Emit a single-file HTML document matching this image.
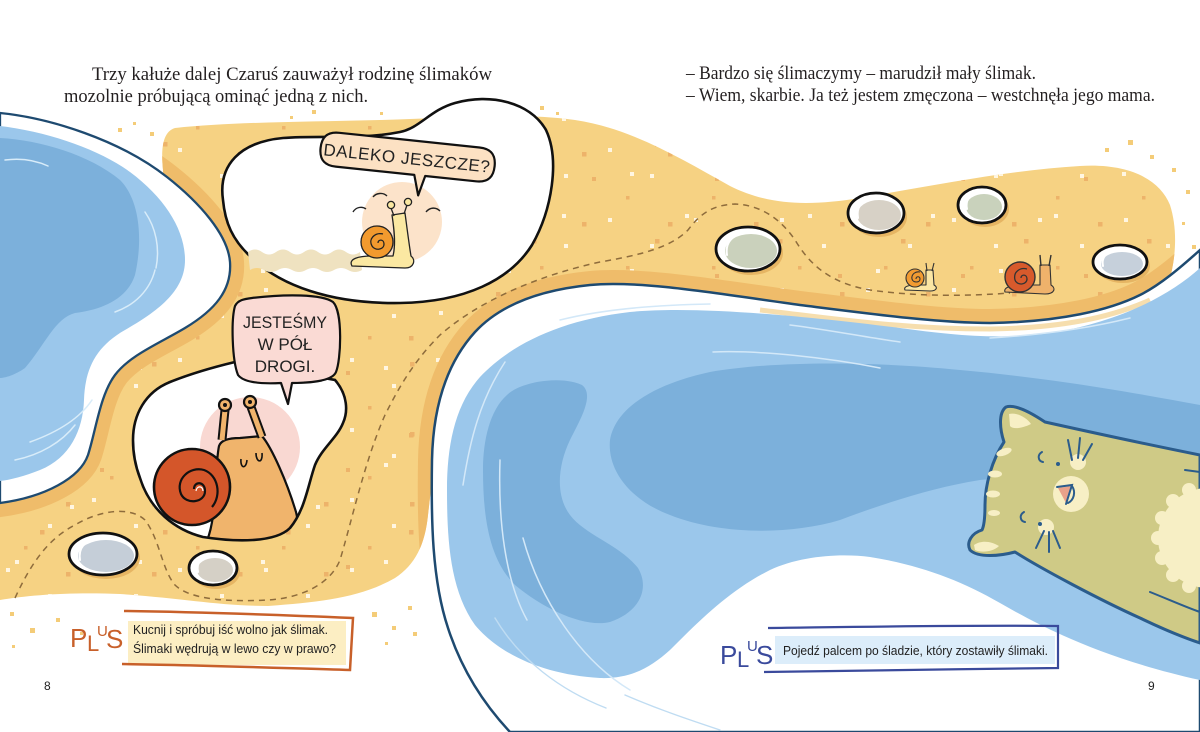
<!DOCTYPE html>
<html><head><meta charset="utf-8"><style>
html,body{margin:0;padding:0;background:#fff;}
svg{display:block;}
.serif{font-family:"Liberation Serif",serif;fill:#231f20;}
.sans{font-family:"Liberation Sans",sans-serif;}
</style></head><body>
<svg width="1200" height="732" viewBox="0 0 1200 732" xmlns="http://www.w3.org/2000/svg">
<defs>
<clipPath id="sandClip"><path d="M175,128 C230,122 300,122 380,120 C450,118 520,112 575,120 C630,128 680,158 730,186 C770,206 810,206 860,198 C930,186 1010,170 1080,166 C1130,163 1160,180 1170,205 C1178,230 1176,260 1168,285 L1100,345 L800,345 L600,330 L480,360 L445,420 L432,480 L428,515 C425,545 415,565 395,578 C360,598 320,602 268,606 C220,606 180,598 120,594 C70,592 30,595 0,600 L0,420 L150,250 C165,220 165,200 163,170 C161,150 162,132 175,128 Z"/></clipPath>
<clipPath id="botBub"><path d="M133,440 C133,415 145,392 170,382 C190,374 210,368 235,362 L335,380 C348,395 348,412 343,423 C337,438 322,448 315,465 C308,485 305,510 290,528 C275,543 235,542 203,537 C175,530 150,510 140,478 C135,465 133,452 133,440 Z"/></clipPath>
<pattern id="dA" width="86" height="70" patternUnits="userSpaceOnUse">
<rect x="6" y="8" width="4" height="4" fill="#FFF6E2"/>
<rect x="48" y="34" width="4" height="4" fill="#FFF6E2"/>
<rect x="66" y="12" width="4.5" height="4.5" fill="#EDB36A"/>
<rect x="24" y="56" width="3.5" height="3.5" fill="#EDB36A"/>
</pattern>
<pattern id="dB" width="123" height="97" patternUnits="userSpaceOnUse">
<rect x="70" y="20" width="4" height="4" fill="#FFF6E2"/>
<rect x="15" y="75" width="4" height="4" fill="#FFF6E2"/>
<rect x="40" y="45" width="4.5" height="4.5" fill="#EDB36A"/>
<rect x="100" y="80" width="4" height="4" fill="#EDB36A"/>
</pattern>
</defs>

<!-- SAND -->
<path d="M175,128 C230,122 300,122 380,120 C450,118 520,112 575,120 C630,128 680,158 730,186 C770,206 810,206 860,198 C930,186 1010,170 1080,166 C1130,163 1160,180 1170,205 C1178,230 1176,260 1168,285 L1100,345 L800,345 L600,330 L480,360 L445,420 L432,480 L428,515 C425,545 415,565 395,578 C360,598 320,602 268,606 C220,606 180,598 120,594 C70,592 30,595 0,600 L0,420 L150,250 C165,220 165,200 163,170 C161,150 162,132 175,128 Z" fill="#F6D283"/>
<g clip-path="url(#sandClip)">
<rect x="0" y="100" width="1200" height="520" fill="url(#dA)"/>
<rect x="0" y="100" width="1200" height="520" fill="url(#dB)"/>
<path d="M0,113 C50,118 120,140 167,177 C200,203 228,235 230,262 C232,290 215,310 185,328 C160,343 130,355 115,375 C100,395 96,430 88,455 C80,478 45,497 0,503 Z" fill="none" stroke="#EFBC6A" stroke-width="28"/>
<path d="M1200,250 C1180,268 1160,285 1140,295 C1110,310 1060,322 990,323 C940,323 880,315 800,305 C720,294 640,280 590,285 C540,290 500,305 475,332 C445,365 433,410 432,460 C431,520 432,580 448,628 C460,665 480,700 510,732 L1200,732 Z" fill="none" stroke="#EFBC6A" stroke-width="28"/>
</g>

<!-- outside dots -->
<g fill="#F4CC78">
<rect x="118" y="128" width="4" height="4"/><rect x="133" y="122" width="3" height="3"/><rect x="150" y="132" width="4" height="4"/>
<rect x="290" y="116" width="3" height="3"/><rect x="312" y="110" width="4" height="4"/><rect x="380" y="112" width="3" height="3"/>
<rect x="540" y="106" width="4" height="4"/><rect x="556" y="112" width="3" height="3"/>
<rect x="1105" y="148" width="4" height="4"/><rect x="1128" y="140" width="5" height="5"/><rect x="1150" y="155" width="4" height="4"/>
<rect x="1172" y="168" width="4" height="4"/><rect x="1186" y="190" width="4" height="4"/><rect x="1182" y="222" width="3" height="3"/><rect x="1192" y="245" width="4" height="4"/>
<rect x="10" y="612" width="4" height="4"/><rect x="30" y="628" width="5" height="5"/><rect x="56" y="618" width="4" height="4"/><rect x="12" y="645" width="3" height="3"/><rect x="80" y="632" width="3" height="3"/>
<rect x="372" y="612" width="5" height="5"/><rect x="392" y="626" width="4" height="4"/><rect x="408" y="606" width="4" height="4"/><rect x="413" y="632" width="4" height="4"/><rect x="385" y="642" width="3" height="3"/>
</g>

<!-- LEFT POOL -->
<path d="M0,113 C50,118 120,140 167,177 C200,203 228,235 230,262 C232,290 215,310 185,328 C160,343 130,355 115,375 C100,395 96,430 88,455 C80,478 45,497 0,503 Z" fill="#fff" stroke="#1E4A70" stroke-width="2.3"/>
<path d="M0,126 C50,132 100,150 130,172 C165,198 185,230 185,260 C185,290 160,310 125,330 C95,347 85,370 84,400 C83,430 70,458 40,470 C25,476 10,480 0,481 Z" fill="#9BC7EB"/>
<path d="M0,138 C40,140 90,155 120,180 C140,200 143,240 135,275 C127,300 100,310 75,313 C55,318 45,345 25,368 C15,375 5,378 0,378 Z" fill="#7CB0DB"/>
<g fill="none" stroke="#D8ECF9" stroke-width="1.5" stroke-linecap="round">
<path d="M145,212 C156,228 160,248 156,268"/>
<path d="M5,160 C20,158 35,160 48,166"/>
<path d="M92,400 C80,418 58,432 30,442"/>
<path d="M75,425 C62,442 40,455 15,460"/>
<path d="M155,270 C150,290 135,305 115,312"/>
</g>

<!-- RIGHT POOL -->
<path d="M1200,250 C1180,268 1160,285 1140,295 C1110,310 1060,322 990,323 C940,323 880,315 800,305 C720,294 640,280 590,285 C540,290 500,305 475,332 C445,365 433,410 432,460 C431,520 432,580 448,628 C460,665 480,700 510,732 L1200,732 Z" fill="#fff" stroke="#1E4A70" stroke-width="2.5"/>
<path d="M1150,300 C1110,318 1060,328 990,329 C900,329 830,318 760,310" fill="none" stroke="#F2D08C" stroke-width="5" opacity="0.7"/>
<path d="M1200,268 C1170,295 1120,322 1050,333 C1000,340 950,335 900,328 C820,318 700,305 630,312 C560,320 510,345 480,377 C455,405 447,445 447,490 C447,540 450,590 475,625 C500,655 545,675 600,678 C630,679 650,668 670,650 C700,620 730,590 770,570 C800,556 840,553 870,557 C920,565 960,580 1000,603 C1050,632 1110,660 1200,680 Z" fill="#9BC7EB"/>
<path d="M507,395 C520,382 560,375 582,385 C595,395 580,420 570,440 C558,465 555,495 570,515 C585,535 620,545 638,568 C650,588 640,612 610,622 C585,628 545,610 515,585 C490,560 483,520 483,470 C483,440 490,410 507,395 Z" fill="#7CB0DB"/>
<path d="M610,440 C615,410 650,385 710,372 C780,360 880,362 960,370 C1050,378 1130,392 1200,405 L1200,470 C1100,470 1030,475 980,480 C930,488 880,505 840,520 C790,535 720,535 670,515 C630,500 607,470 610,440 Z" fill="#7CB0DB"/>
<g fill="none" stroke="#D3E8F8" stroke-width="1.5" stroke-linecap="round">
<path d="M560,320 C600,310 650,305 710,304"/>
<path d="M713,352 C760,350 830,358 880,368"/>
<path d="M790,325 C830,330 870,338 900,342"/>
<path d="M463,485 C470,440 480,400 505,362"/>
<path d="M500,460 C498,520 505,580 527,620"/>
<path d="M523,538 C540,600 580,660 630,690"/>
<path d="M990,338 C1040,335 1090,328 1130,318"/>
</g>
<g fill="none" stroke="#BFDCF2" stroke-width="1.4" stroke-linecap="round">
<path d="M495,618 C520,660 560,690 606,708"/>
<path d="M625,695 C660,710 690,720 720,730"/>
</g>

<!-- dashed path -->
<path d="M15,598 C28,570 45,540 75,525 C100,510 130,506 145,520 C160,540 162,570 175,585 C190,600 230,602 268,600 C300,598 330,585 340,560 C352,520 365,460 385,415 C400,385 415,360 440,335 C480,300 540,275 600,262 C640,255 670,248 688,230 C700,214 712,205 735,204 C760,205 780,218 795,240 C810,265 830,283 870,290 C920,297 970,296 1010,293" fill="none" stroke="#8E6C3C" stroke-width="1.5" stroke-dasharray="6 5"/>

<!-- STONES -->
<g stroke-linecap="round">
<ellipse cx="106" cy="558" rx="34" ry="21" fill="#E6B563"/>
<ellipse cx="103" cy="554" rx="34" ry="21" fill="#fff" stroke="#111" stroke-width="2.8"/>
<ellipse cx="106" cy="556" rx="28" ry="16" fill="#C5CED8"/>
<path d="M80,560 C78,548 85,540 98,538" fill="none" stroke="#fff" stroke-width="2"/>

<ellipse cx="216" cy="572" rx="24" ry="17" fill="#E6B563"/>
<ellipse cx="213" cy="568" rx="24" ry="17" fill="#fff" stroke="#111" stroke-width="2.8"/>
<ellipse cx="215" cy="570" rx="18" ry="12" fill="#D5D0C6"/>
<path d="M198,572 C196,562 202,556 210,555" fill="none" stroke="#fff" stroke-width="2"/>

<ellipse cx="751" cy="253" rx="32" ry="22" fill="#E6B563"/>
<ellipse cx="748" cy="249" rx="32" ry="22" fill="#fff" stroke="#111" stroke-width="2.8"/>
<ellipse cx="751" cy="251" rx="26" ry="17" fill="#CAD1BC"/>
<path d="M727,255 C725,243 732,235 744,233" fill="none" stroke="#fff" stroke-width="2"/>

<ellipse cx="879" cy="217" rx="28" ry="20" fill="#E6B563"/>
<ellipse cx="876" cy="213" rx="28" ry="20" fill="#fff" stroke="#111" stroke-width="2.8"/>
<ellipse cx="879" cy="215" rx="22" ry="15" fill="#D7D1C6"/>
<path d="M858,218 C856,207 862,200 872,198" fill="none" stroke="#fff" stroke-width="2"/>

<ellipse cx="985" cy="209" rx="24" ry="18" fill="#E6B563"/>
<ellipse cx="982" cy="205" rx="24" ry="18" fill="#fff" stroke="#111" stroke-width="2.8"/>
<ellipse cx="984" cy="207" rx="18" ry="13" fill="#C9D2BC"/>
<path d="M967,209 C965,200 970,194 978,193" fill="none" stroke="#fff" stroke-width="2"/>

<ellipse cx="1123" cy="266" rx="27" ry="17" fill="#E6B563"/>
<ellipse cx="1120" cy="262" rx="27" ry="17" fill="#fff" stroke="#111" stroke-width="2.8"/>
<ellipse cx="1122" cy="264" rx="21" ry="12" fill="#C6D0DB"/>
<path d="M1103,266 C1101,257 1107,252 1116,250" fill="none" stroke="#fff" stroke-width="2"/>
</g>

<!-- RIGHT SNAILS -->
<g stroke="#333" stroke-width="1.1" stroke-linejoin="round">
<path d="M905,290 C903,286 910,285 918,285 L926,285 L926,270 L933,270 L934,285 C938,287 937,291 930,291 Z" fill="#FBE6A4"/>
<path d="M927,271 L926,263 M932,271 L934,263" fill="none"/>
<circle cx="915" cy="278" r="9" fill="#F29B32"/>
<path d="M916,279 C916,276 920,276 920,279 C920,283 913,283 912,279 C911,274 916,271 920,272" fill="none"/>
<path d="M1005,292 C1003,287 1012,285 1025,285 L1040,285 L1040,265 L1050,265 L1051,285 C1056,288 1055,294 1045,294 Z" fill="#EFB26B"/>
<path d="M1041,266 L1040,255 M1049,266 L1051,255" fill="none" stroke-width="1.4"/>
<circle cx="1020" cy="277" r="15" fill="#D75A2C" stroke-width="1.4"/>
<path d="M1021,278 C1021,274 1027,274 1027,279 C1027,285 1017,286 1015,280 C1013,272 1020,267 1027,269" fill="none" stroke-width="1.3"/>
</g>

<!-- TOP BUBBLE -->
<path d="M223,200 C218,165 240,142 283,138 C320,135 360,140 400,132 C420,128 430,110 455,103 C490,93 530,102 546,130 C560,160 552,210 532,245 C510,280 465,302 400,303 C330,304 280,285 252,258 C232,240 225,222 223,200 Z" fill="#fff" stroke="#111" stroke-width="2.6"/>
<circle cx="402" cy="222" r="40" fill="#FCE3CA"/>
<path d="M248,252 q7,-5 14,0 t14,0 t14,0 t14,0 t14,0 t14,0 t14,0 t14,0 L362,270 q-7,4 -14,0 t-14,0 t-14,0 t-14,0 t-14,0 t-14,0 t-14,0 t-14,0 Z" fill="#EFE2C0"/>
<g stroke="#222" stroke-width="1.3" stroke-linejoin="round">
<path d="M352,266 C348,259 358,256 372,256 L393,256 C396,244 394,228 392,215 L405,213 C407,228 409,244 411,256 C416,260 414,268 405,268 Z" fill="#FBE8A2"/>
<path d="M394,216 L391,208 M404,214 L407,205" fill="none"/>
<circle cx="391" cy="205" r="3.6" fill="#FBE8A2"/><circle cx="408" cy="202" r="3.6" fill="#FBE8A2"/>
<circle cx="377" cy="242" r="16" fill="#F29A2E"/>
<path d="M378,243 C378,239 384,239 384,244 C384,250 375,251 372,246 C368,239 375,232 383,234" fill="none"/>
<path d="M373,197 C376,193 383,192 387,196 M353,212 C356,207 362,206 366,209 M426,212 C430,207 436,207 440,211" fill="none" stroke-width="1.4"/>
</g>

<!-- DALEKO bubble -->
<g transform="rotate(6 407 158)">
<path d="M337,140 L478,140 C490,140 495,146 495,157 C495,168 490,174 478,174 L427,174 L422,194 L416,174 L337,174 C325,174 320,168 320,157 C320,146 325,140 337,140 Z" fill="#FCE1C3" stroke="#111" stroke-width="2.2" stroke-linejoin="round"/>
<text x="407" y="164" text-anchor="middle" class="sans" font-size="17" fill="#222" letter-spacing="0.6">DALEKO JESZCZE?</text>
</g>

<!-- BOTTOM BUBBLE -->
<path d="M133,440 C133,415 145,392 170,382 C190,374 210,368 235,362 L335,380 C348,395 348,412 343,423 C337,438 322,448 315,465 C308,485 305,510 290,528 C275,543 235,542 203,537 C175,530 150,510 140,478 C135,465 133,452 133,440 Z" fill="#fff"/>
<g clip-path="url(#botBub)">
<circle cx="250" cy="447" r="50" fill="#F9D8D2"/>
<g stroke="#111" stroke-width="2.2" stroke-linejoin="round">
<path d="M205,545 C218,520 214,470 219,446 C221,440 229,438 240,438 L262,436 C272,448 287,482 296,512 C300,528 297,545 285,548 Z" fill="#F0B46C"/>
<path d="M222,440 L225,410 M262,437 L251,407" fill="none" stroke-width="9"/>
<path d="M222,440 L225,410 M262,437 L251,407" fill="none" stroke="#F0B46C" stroke-width="5"/>
<circle cx="225" cy="405" r="6" fill="#F0B46C"/><circle cx="250" cy="402" r="6" fill="#F0B46C"/>
<circle cx="225" cy="405" r="2" fill="#111" stroke="none"/><circle cx="250" cy="402" r="2" fill="#111" stroke="none"/>
<circle cx="192" cy="487" r="38" fill="#D4562A" stroke-width="2.6"/>
<path d="M194,489 C194,481 205,481 205,491 C205,503 186,505 181,494 C175,479 190,466 204,470 C218,475 222,495 212,507" fill="none" stroke-width="2.2"/>
<path d="M196,491 C197,485 203,486 203,491" fill="none" stroke="#fff" stroke-width="1.2"/>
<path d="M241,459 C240,468 246,470 247,460 M256,453 C256,463 263,464 262,453" fill="none" stroke-width="1.6"/>
</g>
</g>
<path d="M133,440 C133,415 145,392 170,382 C190,374 210,368 235,362 L335,380 C348,395 348,412 343,423 C337,438 322,448 315,465 C308,485 305,510 290,528 C275,543 235,542 203,537 C175,530 150,510 140,478 C135,465 133,452 133,440 Z" fill="none" stroke="#111" stroke-width="2.6"/>

<!-- JESTESMY bubble -->
<path d="M252,298 C285,294 322,294 333,302 C343,312 341,360 336,372 C332,382 305,383 292,383 L288,404 L281,383 C262,384 244,383 238,375 C232,360 231,320 235,306 C238,300 244,299 252,298 Z" fill="#FADAD4" stroke="#111" stroke-width="2.2" stroke-linejoin="round"/>
<g class="sans" font-size="17" fill="#222" text-anchor="middle">
<text x="285" y="328" textLength="84" lengthAdjust="spacingAndGlyphs">JESTEŚMY</text>
<text x="285" y="350">W PÓŁ</text>
<text x="285" y="372">DROGI.</text>
</g>

<!-- CAT -->
<path d="M1200,455 C1150,445 1090,432 1045,422 C1030,412 1015,404 1006,407 C998,413 1000,430 1004,442 C992,460 985,485 985,505 C985,518 984,526 982,530 C972,533 966,542 970,550 C978,558 1000,556 1015,552 C1040,568 1100,600 1140,618 C1165,630 1185,638 1200,643 Z" fill="#CFCA86" stroke="#2B5C8C" stroke-width="3" stroke-linejoin="round"/>
<g fill="#F7EFC5">
<path d="M1009,414 C1017,412 1027,418 1031,424 C1023,428 1013,430 1010,426 Z"/>
<path d="M974,545 C981,540 991,541 999,546 C993,552 981,553 975,550 Z"/>
<ellipse cx="1004" cy="452" rx="8" ry="3.5" transform="rotate(-20 1004 452)"/>
<ellipse cx="995" cy="474" rx="7" ry="3.5"/>
<ellipse cx="993" cy="494" rx="7" ry="3.5"/>
<ellipse cx="994" cy="513" rx="6" ry="3"/>
<circle cx="1071" cy="494" r="18"/>
<circle cx="1078" cy="462" r="8"/>
<circle cx="1046" cy="527" r="8"/>
<circle cx="1208" cy="538" r="50"/>
<circle cx="1158" cy="538" r="7"/><circle cx="1162" cy="518" r="7"/><circle cx="1173" cy="501" r="7"/><circle cx="1189" cy="490" r="7"/><circle cx="1208" cy="486" r="7"/>
<circle cx="1162" cy="558" r="7"/><circle cx="1173" cy="575" r="7"/><circle cx="1189" cy="586" r="7"/><circle cx="1208" cy="590" r="7"/>
</g>
<path d="M1058,488 L1072,486 L1066,503 Z" fill="#E9A18A"/>
<g fill="none" stroke="#2B5C8C" stroke-width="2" stroke-linecap="round">
<path d="M1042,452 C1037,455 1038,461 1043,462"/>
<path d="M1024,512 C1019,515 1020,521 1025,522"/>
<path d="M1057,487 L1072,485 L1066,504 M1072,486 C1076,492 1074,500 1068,503"/>
<path d="M1072,460 L1068,440 M1078,458 L1080,438 M1083,460 L1092,444"/>
<path d="M1044,531 L1036,548 M1049,532 L1049,552 M1053,531 L1060,548"/>
<path d="M1185,470 L1200,472 M1150,592 C1170,600 1188,608 1200,612"/>
</g>
<circle cx="1058" cy="464" r="2" fill="#2B5C8C"/>
<circle cx="1040" cy="524" r="2" fill="#2B5C8C"/>

<!-- TEXT -->
<text class="serif" font-size="18.5" x="92" y="80" textLength="400" lengthAdjust="spacingAndGlyphs">Trzy kałuże dalej Czaruś zauważył rodzinę ślimaków</text>
<text class="serif" font-size="18.5" x="64" y="102">mozolnie próbującą ominąć jedną z nich.</text>
<text class="serif" font-size="18.5" x="686" y="79" textLength="350" lengthAdjust="spacingAndGlyphs">– Bardzo się ślimaczymy – marudził mały ślimak.</text>
<text class="serif" font-size="18.5" x="686" y="101" textLength="469" lengthAdjust="spacingAndGlyphs">– Wiem, skarbie. Ja też jestem zmęczona – westchnęła jego mama.</text>

<!-- PLUS left -->
<rect x="128" y="621" width="218" height="44" fill="#FCEEC3"/>
<path d="M124,611 C200,612 280,615 353,618 L350,670 C280,668 200,665 122,664" stroke="#C8602A" stroke-width="2.5" fill="none"/>
<text class="sans" fill="#C8602A" font-size="26"><tspan x="70" y="647">P</tspan><tspan x="87" y="651" font-size="22">L</tspan><tspan x="97" y="636" font-size="15">U</tspan><tspan x="106" y="648">S</tspan></text>
<text class="sans" font-size="12.5" fill="#222" x="133" y="634" textLength="195" lengthAdjust="spacingAndGlyphs">Kucnij i spróbuj iść wolno jak ślimak.</text>
<text class="sans" font-size="12.5" fill="#222" x="133" y="653" textLength="203" lengthAdjust="spacingAndGlyphs">Ślimaki wędrują w lewo czy w prawo?</text>

<!-- PLUS right -->
<rect x="775" y="636" width="280" height="28" fill="#DCEDFA"/>
<path d="M768,628 C850,627 960,625 1058,626 L1058,668 C960,669 850,671 764,672" stroke="#3A4A9C" stroke-width="2.2" fill="none"/>
<text class="sans" fill="#3A4A9C" font-size="26"><tspan x="720" y="664">P</tspan><tspan x="737" y="667" font-size="22">L</tspan><tspan x="747" y="651" font-size="15">U</tspan><tspan x="756" y="664">S</tspan></text>
<text class="sans" font-size="12.5" fill="#222" x="783" y="655" textLength="265" lengthAdjust="spacingAndGlyphs">Pojedź palcem po śladzie, który zostawiły ślimaki.</text>

<!-- page numbers -->
<text class="sans" font-size="12" fill="#222" x="44" y="690">8</text>
<text class="sans" font-size="12" fill="#222" x="1148" y="690">9</text>
</svg>
</body></html>
